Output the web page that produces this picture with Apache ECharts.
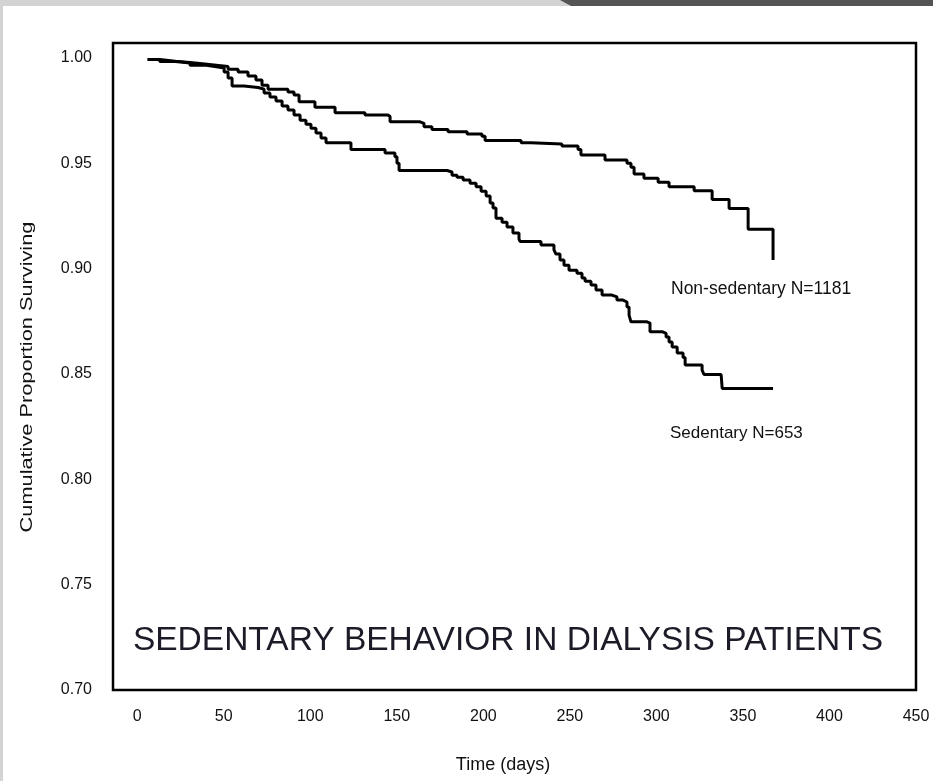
<!DOCTYPE html>
<html><head><meta charset="utf-8">
<script src="https://cdn.jsdelivr.net/npm/echarts@6/dist/echarts.min.js"></script>
<style>html,body{margin:0;padding:0;background:#fff}#c{width:933px;height:781px}</style>
</head><body><div id="c"></div>
<script>
// Kaplan-Meier step curves: day of each drop and survival after the drop
const nonSedDays = [6, 13, 22, 30.5, 39, 47, 52.5, 58.3, 64, 68.6, 72.1, 75.6, 87.1, 90.6, 93.5, 102.7, 114.3, 131.6, 144.9, 146.1, 163.4, 165.7, 170.3, 179.6, 190.6, 199.2, 201.0, 221.8, 227.5, 245.4, 254.7, 256.4, 270.3, 283.0, 285.3, 287.1, 292.8, 301.0, 307.3, 321.8, 332.2, 342.0, 353.0, 367.4];
const nonSedSurv = [0.9992, 0.9984, 0.9977, 0.9970, 0.9963, 0.9958, 0.9946, 0.9932, 0.9913, 0.9894, 0.9870, 0.9851, 0.9837, 0.9823, 0.9791, 0.9765, 0.9739, 0.9728, 0.9721, 0.9696, 0.9689, 0.9673, 0.9660, 0.9649, 0.9638, 0.9628, 0.9607, 0.9597, 0.9591, 0.9581, 0.9565, 0.9538, 0.9515, 0.9499, 0.9481, 0.9448, 0.9428, 0.9409, 0.9388, 0.9369, 0.9327, 0.9285, 0.9186, 0.9040];

const sedDays = [6, 13, 22, 30.5, 39, 46.7, 50.2, 52.5, 54.8, 61.7, 69.8, 73.3, 76.7, 80.2, 83.7, 87.1, 90.6, 94.1, 97.5, 100.4, 103.3, 106.2, 109.1, 123.5, 143.2, 148.9, 150.1, 151.3, 179.0, 181.9, 184.8, 188.3, 192.3, 195.8, 198.7, 201.6, 203.9, 205.6, 207.3, 210.8, 213.7, 217.1, 220.6, 221.2, 233.3, 240.8, 241.9, 244.3, 246.6, 249.5, 254.1, 257.0, 258.8, 262.2, 265.1, 268.6, 274.3, 277.2, 280.7, 283.0, 284.2, 285.3, 294.6, 296.3, 303.3, 305.6, 307.3, 309.1, 312.0, 315.4, 316.6, 326.4, 327.5, 337.4, 338.0, 367.4];
const sedSurv = [0.9992, 0.9982, 0.9975, 0.9965, 0.9956, 0.9951, 0.9932, 0.9904, 0.9866, 0.9859, 0.9851, 0.9833, 0.9814, 0.9795, 0.9771, 0.9752, 0.9728, 0.9704, 0.9685, 0.9666, 0.9643, 0.9619, 0.9597, 0.9565, 0.9548, 0.9530, 0.9500, 0.9465, 0.9458, 0.9443, 0.9433, 0.9420, 0.9404, 0.9388, 0.9367, 0.9344, 0.9311, 0.9287, 0.9239, 0.9220, 0.9197, 0.9168, 0.9140, 0.9128, 0.9111, 0.9088, 0.9069, 0.9040, 0.9016, 0.8992, 0.8977, 0.8955, 0.8940, 0.8922, 0.8898, 0.8874, 0.8865, 0.8850, 0.8841, 0.8817, 0.8779, 0.8747, 0.8741, 0.8700, 0.8692, 0.8675, 0.8651, 0.8627, 0.8599, 0.8578, 0.8542, 0.8518, 0.8497, 0.8494, 0.8431, 0.8431];

const xTickLabels = [0, 50, 100, 150, 200, 250, 300, 350, 400, 450];
const yTickLabels = [0.70, 0.75, 0.80, 0.85, 0.90, 0.95, 1.00];

const seriesNames = ['Non-sedentary N=1181', 'Sedentary N=653'];
const chartTitle = 'SEDENTARY BEHAVIOR IN DIALYSIS PATIENTS';
const xTitle = 'Time (days)';
const yTitle = 'Cumulative Proportion Surviving';

const FONT = '"Liberation Sans", Arial, Helvetica, sans-serif';
const zip = (a, b) => a.map((v, i) => [v, b[i]]);

const chart = echarts.init(document.getElementById('c'), null, {renderer: 'canvas'});
chart.setOption({
  animation: false,
  backgroundColor: '#fff',
  grid: {left: 113, right: 17, top: 43, bottom: 91, show: true, borderColor: '#000', borderWidth: 2.5, backgroundColor: 'transparent'},
  xAxis: {
    type: 'value', min: -14, max: 450,
    axisLine: {show: false}, axisTick: {show: false}, splitLine: {show: false},
    axisLabel: {customValues: xTickLabels, color: '#111', fontFamily: FONT, fontSize: 16, margin: 19, formatter: v => String(v)}
  },
  yAxis: {
    type: 'value', min: 0.70, max: 1.007,
    axisLine: {show: false}, axisTick: {show: false}, splitLine: {show: false},
    axisLabel: {customValues: yTickLabels, color: '#111', fontFamily: FONT, fontSize: 16, margin: 21, formatter: v => v.toFixed(2)}
  },
  series: [
    {name: seriesNames[0], type: 'line', step: 'end', showSymbol: false, data: zip(nonSedDays, nonSedSurv),
     lineStyle: {color: '#000', width: 3}, z: 5},
    {name: seriesNames[1], type: 'line', step: 'end', showSymbol: false, data: zip(sedDays, sedSurv),
     lineStyle: {color: '#000', width: 3}, z: 5}
  ],
  graphic: [
    {type: 'rect', shape: {x: 0, y: 0, width: 933, height: 6}, style: {fill: '#d3d3d3'}, z: 100},
    {type: 'polygon', shape: {points: [[560, 0], [933, 0], [933, 6], [571, 6]]}, style: {fill: '#545454'}, z: 101},
    {type: 'rect', shape: {x: 0, y: 0, width: 3, height: 781}, style: {fill: '#d3d3d3'}, z: 100},
    {type: 'text', x: 27, y: 377, rotation: Math.PI / 2, scaleX: 1.28,
     style: {text: yTitle, font: '17px ' + FONT, fill: '#111', textAlign: 'center', textVerticalAlign: 'middle'}},
    {type: 'text', x: 503, y: 765,
     style: {text: xTitle, font: '18px ' + FONT, fill: '#111', textAlign: 'center', textVerticalAlign: 'middle'}},
    {type: 'text', x: 508, y: 641,
     style: {text: chartTitle, font: '33.5px ' + FONT, fill: '#1c1c28', textAlign: 'center', textVerticalAlign: 'middle'}},
    {type: 'text', x: 671, y: 289,
     style: {text: seriesNames[0], font: '17.5px ' + FONT, fill: '#111', textAlign: 'left', textVerticalAlign: 'middle'}},
    {type: 'text', x: 670, y: 433,
     style: {text: seriesNames[1], font: '17px ' + FONT, fill: '#111', textAlign: 'left', textVerticalAlign: 'middle'}}
  ]
});
</script>
</body></html>
